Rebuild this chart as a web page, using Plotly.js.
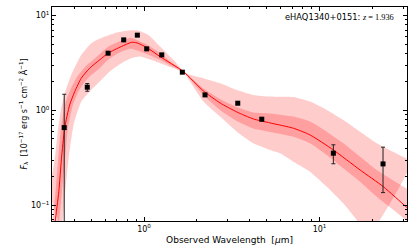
<!DOCTYPE html>
<html><head><meta charset="utf-8">
<script src="https://cdn.plot.ly/plotly-3.0.1.min.js"></script>
<style>html,body{margin:0;padding:0;background:#fff}#chart{width:415px;height:249px}</style>
</head><body><div id="chart"></div>
<script>
// Photometry
const obsWave = [0.351, 0.475, 0.624, 0.766, 0.916, 1.036, 1.262, 1.653, 2.226, 3.42, 4.686, 11.99, 23.0];
const obsFlux = [0.659, 1.757, 4.01, 5.54, 6.21, 4.455, 3.85, 2.529, 1.457, 1.191, 0.808, 0.354, 0.273];
const obsErr  = [0.82, 0.165, 0.12, 0.15, 0.2, 0.12, 0.1, 0.07, 0.05, 0.04, 0.03, 0.08, 0.137];

// Median model
const medWave = [0.309, 0.312, 0.327, 0.338, 0.353, 0.377, 0.403, 0.439, 0.490, 0.559, 0.624, 0.742, 0.850, 0.912, 1.033, 1.234, 1.675, 2.177, 2.71, 3.375, 4.196, 5.224, 7.093, 8.829, 11.99, 17.02, 23.10, 31.12, 33.65];
const medFlux = [0.0549, 0.0683, 0.139, 0.301, 0.649, 1.143, 1.578, 2.186, 2.787, 3.41, 4.01, 4.71, 5.22, 5.15, 4.62, 3.69, 2.567, 1.606, 1.20, 0.964, 0.813, 0.738, 0.649, 0.551, 0.383, 0.2357, 0.157, 0.0966, 0.086];

// 1-sigma band
const s1UpWave = [0.297, 0.301, 0.313, 0.324, 0.336, 0.356, 0.382, 0.415, 0.461, 0.526, 0.624, 0.740, 0.843, 0.949, 1.082, 1.234, 1.444, 1.675, 2.177, 2.71, 3.375, 4.196, 5.224, 7.093, 8.829, 10.99, 13.66, 17.02, 21.18, 31.12, 33.65];
const s1UpFlux = [0.0576, 0.0683, 0.138, 0.301, 0.654, 1.200, 1.686, 2.256, 2.876, 3.536, 4.676, 5.41, 5.82, 5.32, 4.73, 4.01, 3.17, 2.592, 1.715, 1.322, 1.089, 0.953, 0.930, 0.860, 0.762, 0.5975, 0.451, 0.3256, 0.2357, 0.1511, 0.138];
const s1LoWave = [0.3234, 0.329, 0.341, 0.355, 0.3685, 0.3934, 0.4216, 0.455, 0.5056, 0.5614, 0.624, 0.740, 0.843, 0.949, 1.082, 1.234, 1.444, 1.675, 2.177, 2.71, 3.375, 4.196, 5.224, 7.093, 8.829, 10.99, 13.66, 17.02, 21.18, 31.12, 33.65];
const s1LoFlux = [0.0549, 0.0683, 0.138, 0.301, 0.654, 1.143, 1.567, 1.950, 2.398, 2.807, 3.41, 4.14, 4.455, 4.17, 3.80, 3.41, 2.912, 2.535, 1.457, 1.012, 0.775, 0.646, 0.593, 0.529, 0.451, 0.339, 0.2456, 0.1774, 0.1232, 0.070, 0.0605];

// 2-sigma band
const s2UpWave = [0.2838, 0.297, 0.312, 0.323, 0.336, 0.351, 0.3852, 0.4392, 0.5009, 0.597, 0.681, 0.8105, 0.924, 1.054, 1.234, 1.469, 1.675, 1.828, 2.177, 2.71, 3.375, 4.196, 5.224, 7.093, 8.829, 10.99, 13.66, 17.02, 21.18, 31.12, 33.65];
const s2UpFlux = [0.145, 0.194, 0.339, 0.6227, 1.012, 1.457, 2.369, 3.85, 5.116, 6.004, 6.52, 6.947, 6.947, 6.256, 4.71, 3.41, 2.61, 2.369, 2.186, 1.936, 1.645, 1.457, 1.398, 1.388, 1.238, 1.012, 0.794, 0.5975, 0.451, 0.313, 0.2933];
const s2LoWave = [0.3364, 0.344, 0.356, 0.372, 0.397, 0.4392, 0.4904, 0.5594, 0.6376, 0.7425, 0.8465, 0.949, 1.234, 1.469, 1.675, 1.828, 2.177, 2.71, 3.375, 4.196, 5.224, 5.957, 7.093, 8.829, 10.99, 13.66, 16.29, 18.90];
const s2LoFlux = [0.0549, 0.0683, 0.139, 0.313, 0.703, 1.238, 1.578, 2.013, 2.567, 3.147, 3.553, 3.693, 3.147, 2.787, 2.517, 2.013, 1.238, 0.860, 0.5975, 0.451, 0.383, 0.3535, 0.2884, 0.2262, 0.157, 0.105, 0.070, 0.0486];

// Axis ticks
const xTickVals = [1, 10];
const xTickText = ['10<sup>0</sup>', '10<sup>1</sup>'];
const yTickVals = [0.1, 1, 10];
const yTickText = ['10<sup>\u22121</sup>', '10<sup>0</sup>', '10<sup>1</sup>'];

function minorTicks(lo, hi) {
  const out = [];
  for (let e = lo; e <= hi; e++) for (let m = 2; m <= 9; m++) out.push(m * Math.pow(10, e));
  return out;
}
function polygon(ux, uy, lx, ly) {
  return { x: ux.concat(lx.slice().reverse()), y: uy.concat(ly.slice().reverse()) };
}

const p2 = polygon(s2UpWave, s2UpFlux, s2LoWave, s2LoFlux);
const p1 = polygon(s1UpWave, s1UpFlux, s1LoWave, s1LoFlux);
const font = 'DejaVu Sans, sans-serif';

const traces = [
  { x: p2.x, y: p2.y, type: 'scatter', mode: 'lines', fill: 'toself', fillcolor: 'rgba(255,0,0,0.2)', line: { width: 0, shape: 'spline', smoothing: 0.5 }, hoverinfo: 'skip' },
  { x: p1.x, y: p1.y, type: 'scatter', mode: 'lines', fill: 'toself', fillcolor: 'rgba(255,0,0,0.22)', line: { width: 0, shape: 'spline', smoothing: 0.5 }, hoverinfo: 'skip' },
  { x: medWave, y: medFlux, type: 'scatter', mode: 'lines', line: { color: '#ff0000', width: 1, shape: 'spline', smoothing: 0.6 } },
  { x: obsWave, y: obsFlux, type: 'scatter', mode: 'markers',
    marker: { symbol: 'square', size: 5, color: '#000' },
    error_y: { type: 'data', array: obsErr, visible: true, color: '#222', thickness: 1, width: 2 } }
];

const axisCommon = {
  type: 'log', ticks: 'inside', ticklen: 4, tickwidth: 1, tickcolor: '#000',
  showline: true, linecolor: '#000', linewidth: 1, mirror: 'allticks',
  showgrid: false, zeroline: false, tickmode: 'array',
  tickfont: { family: font, size: 8, color: '#000' }
};

const layout = {
  width: 415, height: 249,
  margin: { l: 52, r: 8, t: 7, b: 28 },
  paper_bgcolor: '#fff', plot_bgcolor: '#fff',
  showlegend: false,
  xaxis: Object.assign({}, axisCommon, {
    range: [Math.log10(0.299), Math.log10(31.5)],
    tickvals: xTickVals, ticktext: xTickText,
    minor: { tickmode: 'array', tickvals: minorTicks(-1, 1), ticks: 'inside', ticklen: 2, tickcolor: '#000', showgrid: false },
    title: { text: 'Observed Wavelength&nbsp;&nbsp;[<i>\u03bc</i>m]', font: { family: font, size: 9, color: '#000' }, standoff: 4 }
  }),
  yaxis: Object.assign({}, axisCommon, {
    range: [Math.log10(0.0683), Math.log10(12.3)],
    tickvals: yTickVals, ticktext: yTickText,
    minor: { tickmode: 'array', tickvals: minorTicks(-2, 1), ticks: 'inside', ticklen: 2, tickcolor: '#000', showgrid: false },
    title: { text: '<i>F</i><sub>\u03bb</sub>&nbsp;&nbsp;[10<sup>\u221217</sup> erg s<sup>\u22121</sup> cm<sup>\u22122</sup> \u00c5<sup>\u22121</sup>]', font: { family: font, size: 8, color: '#000' }, standoff: 2 }
  }),
  annotations: [{
    xref: 'paper', yref: 'paper', x: 0.969, y: 0.953, xanchor: 'right', yanchor: 'middle', showarrow: false,
    text: 'eHAQ1340+0151: <span style="font-family:Liberation Serif"><i>z</i> = 1.936</span>',
    font: { family: font, size: 8.3, color: '#000' }
  }]
};

Plotly.newPlot('chart', traces, layout, { staticPlot: true, displayModeBar: false });
</script>
</body></html>
